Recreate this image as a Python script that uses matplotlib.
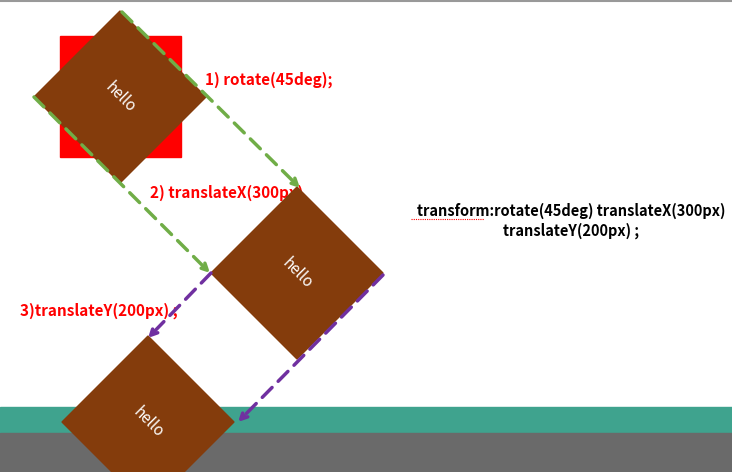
import matplotlib.pyplot as plt
from matplotlib.patches import Polygon, Rectangle

plt.rcParams['font.family'] = ['Noto Sans CJK SC', 'DejaVu Sans']

# diamond centres (pixel coords, y down) and half-diagonal
centres = [(120, 97), (297, 273), (148, 422)]
half = 86
labels = ['1) rotate(45deg);', '2) translateX(300px)', '3)translateY(200px) ;']
label_pos = [(205, 80), (150, 193), (20, 311)]
note_lines = ['transform:rotate(45deg) translateX(300px)', 'translateY(200px) ;']

fig = plt.figure(figsize=(7.32, 4.72), dpi=100)
ax = fig.add_axes([0, 0, 1, 1])
ax.set_xlim(0, 732)
ax.set_ylim(472, 0)
ax.axis('off')

ax.plot([0, 732], [1, 1], color='#999999', lw=1.5)

# ground
ax.add_patch(Rectangle((0, 407), 732, 26, color='#3FA38E', zorder=1))
ax.add_patch(Rectangle((0, 433), 732, 39, color='#6A6A6A', zorder=1))

# original square
ax.add_patch(Rectangle((60, 36), 121, 121, color='#FF0000', zorder=2))

brown = '#843C0C'
for cx, cy in centres:
    pts = [(cx, cy - half), (cx + half, cy), (cx, cy + half), (cx - half, cy)]
    ax.add_patch(Polygon(pts, closed=True, color=brown, zorder=4))
    ax.text(cx, cy, 'hello', rotation=-45, color='white', fontsize=11,
            ha='center', va='center', zorder=5)

# labels
for (x, y), t in zip(label_pos, labels):
    ax.text(x, y, t, color='#FF0000', fontsize=11, fontweight='bold',
            ha='left', va='center', zorder=3)

ax.text(571, 211, note_lines[0], fontsize=10.5, fontweight='bold', ha='center', va='center')
ax.text(571, 231, note_lines[1], fontsize=10.5, fontweight='bold', ha='center', va='center')
ax.plot([411, 484], [219, 219], color='#FF0000', lw=0.8, ls=(0, (1, 1)))

def arrow(x0, y0, x1, y1, c):
    ax.annotate('', xy=(x1, y1), xytext=(x0, y0), zorder=6,
                arrowprops=dict(arrowstyle='-|>', color=c, lw=2.5, ls=(0, (4, 2.5)),
                                mutation_scale=12, shrinkA=0, shrinkB=0))

green = '#70AD47'
purple = '#7030A0'
arrow(122, 12, 300, 188, green)
arrow(34, 97, 210, 273, green)
arrow(211, 273, 148, 338, purple)
arrow(383, 275, 238, 422, purple)

fig.savefig('out.png', dpi=100)
